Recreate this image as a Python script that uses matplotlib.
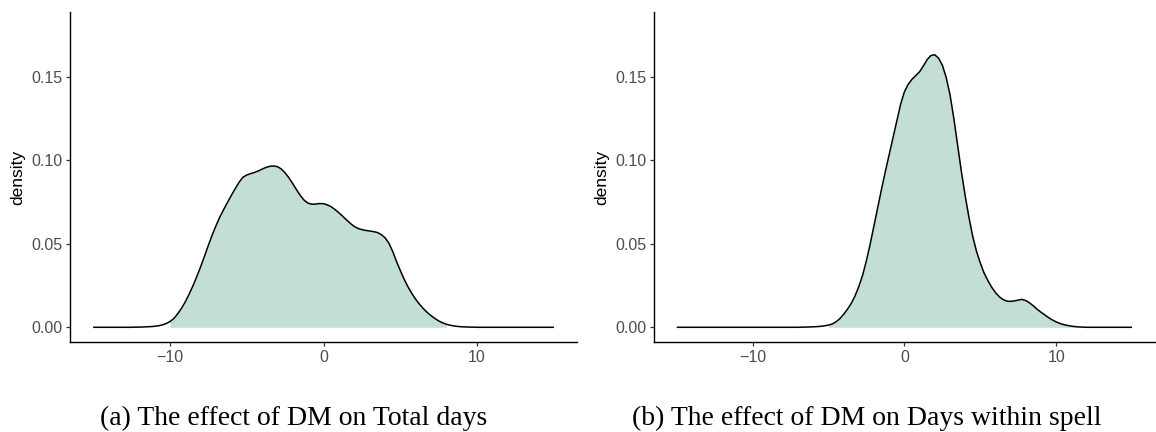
import numpy as np
import matplotlib
matplotlib.use("Agg")
import matplotlib.pyplot as plt

# Evaluation grid for both density estimates (step 0.25)
x_grid = np.arange(-15.0, 15.001, 0.25)

# Density of the DM effect on total days (one row per unit of x)
dens_total = [
    0.0000, 0.0000, 0.0000, 0.0000,   # -15
    0.0000, 0.0000, 0.0000, 0.0000,   # -14
    0.0000, 0.0000, 0.0000, 0.0001,   # -13
    0.0001, 0.0002, 0.0003, 0.0004,   # -12
    0.0006, 0.0009, 0.0014, 0.0022,   # -11
    0.0034, 0.0052, 0.0080, 0.0113,   # -10
    0.0152, 0.0198, 0.0248, 0.0303,   # -9
    0.0362, 0.0425, 0.0490, 0.0552,   # -8
    0.0608, 0.0660, 0.0705, 0.0748,   # -7
    0.0790, 0.0830, 0.0868, 0.0898,   # -6
    0.0912, 0.0920, 0.0927, 0.0936,   # -5
    0.0947, 0.0957, 0.0964, 0.0966,   # -4
    0.0962, 0.0948, 0.0925, 0.0895,   # -3
    0.0860, 0.0823, 0.0788, 0.0760,   # -2
    0.0743, 0.0737, 0.0738, 0.0741,   # -1
    0.0740, 0.0733, 0.0722, 0.0705,   # 0
    0.0686, 0.0665, 0.0643, 0.0622,   # 1
    0.0604, 0.0592, 0.0585, 0.0580,   # 2
    0.0577, 0.0573, 0.0568, 0.0556,   # 3
    0.0537, 0.0505, 0.0455, 0.0395,   # 4
    0.0340, 0.0288, 0.0242, 0.0203,   # 5
    0.0168, 0.0138, 0.0112, 0.0089,   # 6
    0.0070, 0.0053, 0.0038, 0.0027,   # 7
    0.0018, 0.0012, 0.0008, 0.0005,   # 8
    0.0003, 0.0002, 0.0001, 0.0001,   # 9
    0.0000, 0.0000, 0.0000, 0.0000,   # 10
    0.0000, 0.0000, 0.0000, 0.0000,   # 11
    0.0000, 0.0000, 0.0000, 0.0000,   # 12
    0.0000, 0.0000, 0.0000, 0.0000,   # 13
    0.0000, 0.0000, 0.0000, 0.0000,   # 14
    0.0000,                           # 15
]

# Density of the DM effect on days within spell (one row per unit of x)
dens_spell = [
    0.0000, 0.0000, 0.0000, 0.0000,   # -15
    0.0000, 0.0000, 0.0000, 0.0000,   # -14
    0.0000, 0.0000, 0.0000, 0.0000,   # -13
    0.0000, 0.0000, 0.0000, 0.0000,   # -12
    0.0000, 0.0000, 0.0000, 0.0000,   # -11
    0.0000, 0.0000, 0.0000, 0.0000,   # -10
    0.0000, 0.0000, 0.0000, 0.0000,   # -9
    0.0000, 0.0000, 0.0000, 0.0000,   # -8
    0.0000, 0.0001, 0.0001, 0.0002,   # -7
    0.0003, 0.0004, 0.0006, 0.0009,   # -6
    0.0013, 0.0020, 0.0033, 0.0052,   # -5
    0.0078, 0.0108, 0.0143, 0.0188,   # -4
    0.0245, 0.0312, 0.0400, 0.0500,   # -3
    0.0610, 0.0720, 0.0830, 0.0935,   # -2
    0.1035, 0.1135, 0.1235, 0.1335,   # -1
    0.1410, 0.1455, 0.1485, 0.1508,   # 0
    0.1530, 0.1565, 0.1603, 0.1628,   # 1
    0.1632, 0.1612, 0.1570, 0.1497,   # 2
    0.1395, 0.1255, 0.1095, 0.0935,   # 3
    0.0790, 0.0660, 0.0545, 0.0455,   # 4
    0.0385, 0.0325, 0.0280, 0.0240,   # 5
    0.0208, 0.0183, 0.0166, 0.0157,   # 6
    0.0155, 0.0158, 0.0163, 0.0167,   # 7
    0.0160, 0.0146, 0.0128, 0.0108,   # 8
    0.0090, 0.0074, 0.0058, 0.0044,   # 9
    0.0032, 0.0023, 0.0016, 0.0011,   # 10
    0.0007, 0.0004, 0.0002, 0.0001,   # 11
    0.0000, 0.0000, 0.0000, 0.0000,   # 12
    0.0000, 0.0000, 0.0000, 0.0000,   # 13
    0.0000, 0.0000, 0.0000, 0.0000,   # 14
    0.0000,                           # 15
]

# Range of observed estimates (shaded part of each curve)
range_total = (-10.0, 8.0)
range_spell = (-5.0, 11.5)

captions = [
    "(a) The effect of DM on Total days",
    "(b) The effect of DM on Days within spell",
]
x_ticks = [-10, 0, 10]
y_ticks = [0.00, 0.05, 0.10, 0.15]

fill_color = "#C3DED6"
sans = "Liberation Sans"
serif = "Liberation Serif"

fig = plt.figure(figsize=(11.56, 4.32), dpi=100)
bottom, top = 0.2076, 0.9729
ax_a = fig.add_axes([0.0606, bottom, 0.4385, top - bottom])
ax_b = fig.add_axes([0.5657, bottom, 0.4333, top - bottom])

panels = [
    (ax_a, dens_total, range_total),
    (ax_b, dens_spell, range_spell),
]

for ax, dens, (lo, hi) in panels:
    xs = np.asarray(x_grid)
    ys = np.asarray(dens)
    mask = (xs >= lo - 1e-9) & (xs <= hi + 1e-9)
    ax.fill_between(xs[mask], 0, ys[mask], color=fill_color, linewidth=0, zorder=1)
    ax.plot(xs, ys, color="black", linewidth=1.1, zorder=2,
            solid_joinstyle="round", solid_capstyle="butt")

    ax.set_xlim(-16.5, 16.5)
    ax.set_ylim(-0.009, 0.189)
    ax.set_xticks(x_ticks)
    ax.set_yticks(y_ticks)
    ax.set_yticklabels([f"{v:.2f}" for v in y_ticks])
    ax.set_xticklabels([f"{v}".replace("-", "\u2212") for v in x_ticks])

    for side in ("top", "right"):
        ax.spines[side].set_visible(False)
    for side in ("left", "bottom"):
        ax.spines[side].set_linewidth(1.0)
        ax.spines[side].set_color("black")

    ax.tick_params(axis="both", length=3.0, width=0.9, color="#333333",
                   labelcolor="#4D4D4D", labelsize=11.5, pad=2.5)
    for lab in ax.get_xticklabels() + ax.get_yticklabels():
        lab.set_fontfamily(sans)
    ax.set_ylabel("density", fontsize=12.5, family=sans, color="black", labelpad=4)

fig.text(0.254, 0.016, captions[0], ha="center", va="baseline",
         fontsize=20, family=serif, color="black")
fig.text(0.750, 0.016, captions[1], ha="center", va="baseline",
         fontsize=20, family=serif, color="black")

fig.savefig("out.png", dpi=100, facecolor="white")
